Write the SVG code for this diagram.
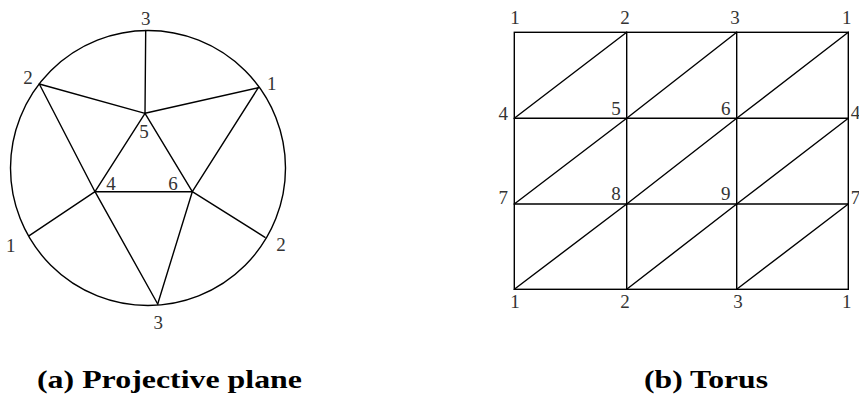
<svg xmlns="http://www.w3.org/2000/svg" width="859" height="394" viewBox="0 0 859 394">
<style>
.e{stroke:#000;stroke-width:1.4;fill:none;stroke-linecap:round}
.l{font-family:"Liberation Serif","DejaVu Serif",serif;font-size:19px;fill:#333;text-anchor:middle}
.c{font-family:"Liberation Serif","DejaVu Serif",serif;font-size:25px;font-weight:bold;fill:#000}
</style>
<rect width="859" height="394" fill="#fff"/>
<g id="projective-plane">
<g id="pp-connectors">
<circle class="e" cx="148" cy="168" r="137.5"/>
<line class="e" x1="145.7" y1="30.5" x2="145" y2="113.3"/>
<line class="e" x1="39.3" y1="84" x2="145" y2="113.3"/>
<line class="e" x1="258.3" y1="87.7" x2="145" y2="113.3"/>
<line class="e" x1="39.3" y1="84" x2="95" y2="191.7"/>
<line class="e" x1="95" y1="191.7" x2="157.7" y2="304"/>
<line class="e" x1="258.3" y1="87.7" x2="192.3" y2="191.7"/>
<line class="e" x1="192.3" y1="191.7" x2="157.7" y2="304"/>
<line class="e" x1="145" y1="113.3" x2="95" y2="191.7"/>
<line class="e" x1="145" y1="113.3" x2="192.3" y2="191.7"/>
<line class="e" x1="95" y1="191.7" x2="192.3" y2="191.7"/>
<line class="e" x1="95" y1="191.7" x2="29.3" y2="235.7"/>
<line class="e" x1="192.3" y1="191.7" x2="265" y2="237.3"/>
</g>
<g id="pp-v3t"><text class="l" x="145.7" y="25">3</text></g>
<g id="pp-v2a"><text class="l" x="28" y="84">2</text></g>
<g id="pp-v1a"><text class="l" x="271.7" y="89.5">1</text></g>
<g id="pp-v5"><text class="l" x="144" y="138">5</text></g>
<g id="pp-v4"><text class="l" x="111" y="190">4</text></g>
<g id="pp-v6"><text class="l" x="173" y="189.5">6</text></g>
<g id="pp-v1b"><text class="l" x="10.7" y="252">1</text></g>
<g id="pp-v2b"><text class="l" x="281" y="251">2</text></g>
<g id="pp-v3b"><text class="l" x="158.3" y="328.5">3</text></g>
<text class="c" x="37" y="388" textLength="265" lengthAdjust="spacingAndGlyphs">(a) Projective plane</text>
</g>
<g id="torus">
<g id="torus-connectors">
<rect class="e" x="514.3" y="32.3" width="334" height="257"/>
<line class="e" x1="626.7" y1="32.3" x2="626.7" y2="289.3"/>
<line class="e" x1="736.7" y1="32.3" x2="736.7" y2="289.3"/>
<line class="e" x1="514.3" y1="118.3" x2="848.3" y2="118.3"/>
<line class="e" x1="514.3" y1="204" x2="848.3" y2="204"/>
<line class="e" x1="514.3" y1="118.3" x2="626.7" y2="32.3"/>
<line class="e" x1="626.7" y1="118.3" x2="736.7" y2="32.3"/>
<line class="e" x1="736.7" y1="118.3" x2="848.3" y2="32.3"/>
<line class="e" x1="514.3" y1="204" x2="626.7" y2="118.3"/>
<line class="e" x1="626.7" y1="204" x2="736.7" y2="118.3"/>
<line class="e" x1="736.7" y1="204" x2="848.3" y2="118.3"/>
<line class="e" x1="514.3" y1="289.3" x2="626.7" y2="204"/>
<line class="e" x1="626.7" y1="289.3" x2="736.7" y2="204"/>
<line class="e" x1="736.7" y1="289.3" x2="848.3" y2="204"/>
</g>
<g id="t-1a"><text class="l" x="515" y="23.5">1</text></g>
<g id="t-2a"><text class="l" x="625" y="23.5">2</text></g>
<g id="t-3a"><text class="l" x="735" y="23.5">3</text></g>
<g id="t-1b"><text class="l" x="846.7" y="23.5">1</text></g>
<g id="t-4a"><text class="l" x="503.3" y="119.5">4</text></g>
<g id="t-5"><text class="l" x="616" y="115">5</text></g>
<g id="t-6"><text class="l" x="725.7" y="115">6</text></g>
<g id="t-4b"><text class="l" x="855.5" y="118.5">4</text></g>
<g id="t-7a"><text class="l" x="503.3" y="204">7</text></g>
<g id="t-8"><text class="l" x="616" y="199.5">8</text></g>
<g id="t-9"><text class="l" x="725.7" y="199.5">9</text></g>
<g id="t-7b"><text class="l" x="855.5" y="204">7</text></g>
<g id="t-1c"><text class="l" x="515" y="308">1</text></g>
<g id="t-2c"><text class="l" x="625" y="308">2</text></g>
<g id="t-3c"><text class="l" x="738" y="308">3</text></g>
<g id="t-1d"><text class="l" x="846.7" y="308">1</text></g>
<text class="c" x="644" y="388" textLength="124" lengthAdjust="spacingAndGlyphs">(b) Torus</text>
</g>
</svg>
